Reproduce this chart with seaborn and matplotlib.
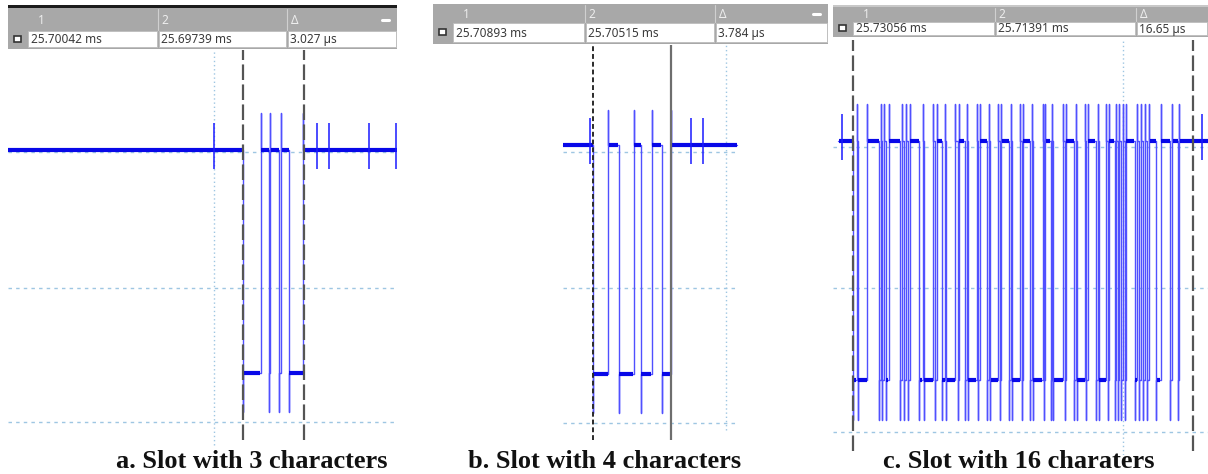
import numpy as np
import pandas as pd
import matplotlib
matplotlib.use('Agg')
import matplotlib.pyplot as plt
from matplotlib.patches import Rectangle
import seaborn as sns

# ---- data (time in us, left cursor = 0) ----
captions = ["a. Slot with 3 characters", "b. Slot with 4 characters", "c. Slot with 16 charaters"]
cursor1_txt = ["25.70042 ms", "25.70893 ms", "25.73056 ms"]
cursor2_txt = ["25.69739 ms", "25.70515 ms", "25.71391 ms"]
delta_txt = ["3.027 \u00b5s", "3.784 \u00b5s", "16.65 \u00b5s"]
delta_us = [3.027, 3.784, 16.65]

# edge times, the line starts high and toggles at every edge
edges_a = [0.0, 0.87, 1.30, 1.36, 1.81, 1.89, 2.28, 3.00]
edges_b = [0.0, 0.75, 1.24, 1.97, 2.33, 2.84, 3.33, 3.80]
edges_c = [0.0, 0.18, 0.245, 0.70,
           1.29, 1.355, 1.437, 1.534, 1.616, 1.747,
           2.302, 2.40, 2.498, 2.596, 2.677, 2.791,
           3.249, 3.412, 3.477, 3.934, 4.032, 4.097,
           4.359, 4.505, 4.571, 5.011, 5.126, 5.191,
           5.469, 5.567, 5.615, 6.056, 6.138, 6.203,
           6.579, 6.677, 6.725, 7.117, 7.199, 7.264,
           7.656, 7.738, 7.787, 8.178, 8.260, 8.325,
           8.668, 8.766, 8.815, 9.288, 9.354, 9.419,
           9.680, 9.762, 9.811, 10.30, 10.366, 10.431,
           10.823, 10.921, 10.970, 11.361, 11.427, 11.492,
           11.884, 11.982, 12.031, 12.390, 12.472, 12.537,
           12.814, 12.880, 12.978, 13.043, 13.141, 13.206, 13.304, 13.369,
           13.794, 13.924, 14.022, 14.120, 14.218, 14.316, 14.414, 14.496,
           14.839, 15.067,
           15.524, 15.622, 15.916, 15.981]

# small spikes on the idle level
glitch_a = [-1.46, 3.68, 4.29, 6.23, 7.57]
glitch_b = [-0.17, 4.78, 5.32]
glitch_c = [-0.55, 17.07]

high_lvl = [1.015, 1.05, 1.08]
low_lvl = [-0.625, -0.632, -0.676]
top_lvl = [1.287, 1.31, 1.353]
bot_lvl = [-0.912, -0.92, -0.97]

trace_start = [-11.66, -1.46, -0.73]
trace_end = [7.64, 6.99, 17.38]
grid_h = [[1.0, 0.0, -0.985], [1.0, 0.0, -0.99], [1.037, 0.0, -1.06]]
grid_v = [-1.46, 6.48, 13.22]

edges = [edges_a, edges_b, edges_c]
glitches = [glitch_a, glitch_b, glitch_c]

# ---- layout (pixels) ----
W, H = 1208, 474
panel_x = [(8, 397), (433, 828), (833, 1208)]
xlims = [(-11.66, 7.64), (-7.77, 11.41), (-0.98, 17.38)]
hgrid_span = [None, (-1.46, 6.99), None]
cursor_top = [1.75, 1.79, 1.82]
cursor_bot = [-1.118, -1.118, -1.20]
vgrid_rng = [(1.75, -1.154), (1.79, -1.044), (1.82, -1.228)]
header_rows = [(8, 30, 47), (4, 22, 42), (7, 21, 35)]
header_divs = [(158, 287), (585, 715), (995, 1136)]
caption_x = [252, 605, 1019]

sns.set_theme(style="white")
plt.rcParams['font.family'] = ['Noto Sans', 'DejaVu Sans']

fig = plt.figure(figsize=(W / 100, H / 100), dpi=100)
fig.patch.set_facecolor('white')


def px_axes(x0, x1, y0, y1):
    return fig.add_axes([x0 / W, 1 - y1 / H, (x1 - x0) / W, (y1 - y0) / H])


def build_wave(i):
    hi, lo, top, bot = high_lvl[i], low_lvl[i], top_lvl[i], bot_lvl[i]
    ts, vs = [trace_start[i]], [hi]
    flats = []
    level, seg0 = hi, trace_start[i]
    for t in edges[i]:
        flats.append((seg0, t, level))
        if level == hi:
            ts += [t, t, t]
            vs += [hi, bot, lo]
            level = lo
        else:
            ts += [t, t, t]
            vs += [lo, top, hi]
            level = hi
        seg0 = t
    ts.append(trace_end[i])
    vs.append(level)
    flats.append((seg0, trace_end[i], level))
    return pd.DataFrame({'t': ts, 'v': vs}), flats


for i in range(3):
    x0, x1 = panel_x[i]
    ax = px_axes(x0, x1, 36, 455)
    ax.set_xlim(*xlims[i])
    ax.set_ylim(-1.228, 1.853)
    ax.axis('off')

    # grid
    gx0, gx1 = hgrid_span[i] if hgrid_span[i] else xlims[i]
    for gy in grid_h[i]:
        ax.plot([gx0, gx1], [gy, gy], color='#9ec6e2', lw=1.0,
                dashes=(2.5, 3), zorder=1)
    ax.vlines(grid_v[i], vgrid_rng[i][1], vgrid_rng[i][0], color='#9ec6e2',
              lw=1.0, linestyles=(0, (1, 2)), zorder=1)

    # waveform
    df, flats = build_wave(i)
    sns.lineplot(data=df, x='t', y='v', sort=False, estimator=None,
                 color='#5050ff', lw=1.0, ax=ax, zorder=3)
    for s0, s1, lv in flats:
        if s1 - s0 > 0.12:
            ax.plot([s0 + 0.02, s1 - 0.02], [lv, lv], color='#0808e8',
                    lw=3.0, solid_capstyle='butt', zorder=4)
    hi = high_lvl[i]
    ax.vlines(glitches[i], hi - 0.14, hi + 0.2, color='#1a1aff', lw=1.1, zorder=4)

    # cursors
    c1 = delta_us[i]
    if i == 1:
        ax.vlines(0, cursor_bot[i], cursor_top[i], color='#2a2a2a', lw=1.4,
                  linestyles=(0, (2.5, 1.5)), zorder=5)
        ax.vlines(c1, cursor_bot[i], cursor_top[i], color='#6e6e6e', lw=1.6, zorder=5)
    else:
        for cx in (0, c1):
            ax.vlines(cx, cursor_bot[i], cursor_top[i], color='#555555', lw=1.6,
                      linestyles=(0, (7, 2)), zorder=5)
    ax.set_xlabel('')
    ax.set_ylabel('')

    # header strip
    gy0, gy1, wy1 = header_rows[i]
    hx = px_axes(x0, x1, 3, wy1 + 3)
    hx.set_xlim(x0, x1)
    hx.set_ylim(wy1 + 3, 3)
    hx.axis('off')
    if i == 0:
        hx.add_patch(Rectangle((x0, 5), x1 - x0, 3, color='#1c1c1c', lw=0))
    if i == 2:
        hx.add_patch(Rectangle((x0, 5), x1 - x0, 1.5, color='#c8c8c8', lw=0))
    hx.add_patch(Rectangle((x0, gy0), x1 - x0, wy1 - gy0 + 2, color='#a8a8a8', lw=0))
    d1, d2 = header_divs[i]
    cells = [(x0 + 20, d1 - 1), (d1 + 1, d2 - 1), (d2 + 1, x1 - 1)]
    for cx0, cx1 in cells:
        hx.add_patch(Rectangle((cx0, gy1 + 1), cx1 - cx0, wy1 - gy1 - 1,
                               facecolor='white', edgecolor='#bdbdbd', lw=0.6))
    for d in (d1, d2):
        hx.plot([d, d], [gy0 + 1, gy1], color='#d0d0d0', lw=0.8)
    hx.add_patch(Rectangle((x0 + 6, (gy1 + wy1) / 2 - 3), 7, 6,
                           facecolor='white', edgecolor='#333333', lw=1.2))
    mid_g = (gy0 + gy1) / 2 + 1
    mid_w = (gy1 + wy1) / 2 + 1
    hx.text(x0 + 30, mid_g, '1', color='#eeeeee', fontsize=8.5, va='center')
    hx.text(d1 + 3, mid_g, '2', color='#eeeeee', fontsize=8.5, va='center')
    hx.text(d2 + 4, mid_g, '\u0394', color='#eeeeee', fontsize=8.5, va='center')
    if i < 2:
        hx.plot([x1 - 15, x1 - 8], [mid_g, mid_g], color='white', lw=2.2)
    hx.text(x0 + 23, mid_w, cursor1_txt[i], color='#3a3a3a', fontsize=8.5, va='center')
    hx.text(d1 + 3, mid_w, cursor2_txt[i], color='#3a3a3a', fontsize=8.5, va='center')
    hx.text(d2 + 3, mid_w, delta_txt[i], color='#3a3a3a', fontsize=8.5, va='center')

    fig.text(caption_x[i] / W, 1 - 461 / H, captions[i], ha='center', va='center',
             fontsize=19, fontweight='bold', family=['Liberation Serif', 'DejaVu Serif'],
             color='#111111')

fig.savefig('out.png', dpi=100, facecolor='white')
